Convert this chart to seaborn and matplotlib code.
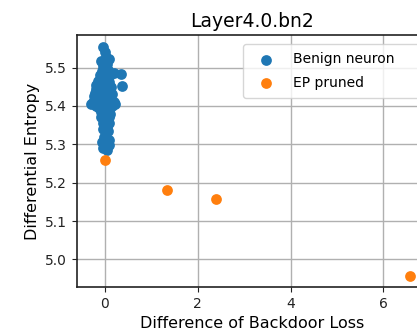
import matplotlib
matplotlib.use("Agg")
import matplotlib.pyplot as plt
import seaborn as sns
import pandas as pd

# Benign neurons: change in backdoor loss vs. differential entropy
benign_x = [-0.05, 0.00, 0.03, -0.09, 0.09, 0.05, -0.04, 0.07, 0.00, -0.06,
            0.34, 0.37, 0.20, 0.12,
            -0.10, -0.05, 0.05, -0.14, 0.10, -0.18, 0.00, 0.14, -0.20, -0.08,
            0.08, -0.22, 0.15, -0.12, 0.02, -0.24, 0.12, -0.05, -0.18, 0.20,
            -0.26, 0.05, -0.30, -0.10, 0.22, 0.15, -0.20, 0.00, -0.12,
            0.08, -0.08, 0.12, 0.00, -0.08, 0.10, 0.03, -0.05, 0.10, 0.05,
            -0.03, 0.07,
            -0.02, 0.09, -0.07, 0.10, 0.02, -0.04, 0.05]
benign_y = [5.553, 5.540, 5.527, 5.518, 5.523, 5.510, 5.505, 5.495, 5.490, 5.490,
            5.484, 5.451, 5.485, 5.480,
            5.480, 5.475, 5.470, 5.465, 5.462, 5.455, 5.455, 5.450, 5.445, 5.440,
            5.440, 5.435, 5.430, 5.430, 5.430, 5.425, 5.420, 5.420, 5.415, 5.410,
            5.410, 5.410, 5.405, 5.405, 5.405, 5.400, 5.400, 5.400, 5.395,
            5.390, 5.385, 5.380, 5.375, 5.370, 5.370, 5.360, 5.355, 5.355, 5.345,
            5.340, 5.335,
            5.318, 5.312, 5.305, 5.298, 5.300, 5.290, 5.286]

# Neurons pruned by EP
pruned_x = [0.00, 1.33, 2.39, 6.57]
pruned_y = [5.258, 5.180, 5.157, 4.956]

benign = pd.DataFrame({"loss_diff": benign_x, "entropy": benign_y})
pruned = pd.DataFrame({"loss_diff": pruned_x, "entropy": pruned_y})

fig = plt.figure(figsize=(4.17, 3.34), dpi=100)
ax = fig.add_axes([77 / 417, 47 / 334, 350 / 417, 252 / 334])

sns.scatterplot(data=benign, x="loss_diff", y="entropy", ax=ax,
                color="#1f77b4", s=60, linewidth=0, label="Benign neuron", zorder=3)
sns.scatterplot(data=pruned, x="loss_diff", y="entropy", ax=ax,
                color="#ff7f0e", s=60, linewidth=0, label="EP pruned", zorder=3)

ax.set_xlim(-0.6, 6.94)
ax.set_ylim(4.928, 5.585)
ax.set_xticks([0, 2, 4, 6])
ax.set_yticks([5.0, 5.1, 5.2, 5.3, 5.4, 5.5])
ax.grid(True, color="#b0b0b0", linewidth=1.0)
ax.set_axisbelow(True)
for sp in ax.spines.values():
    sp.set_color("#222222")
    sp.set_linewidth(1.2)
ax.tick_params(labelsize=10, colors="#222222")

ax.set_title("Layer4.0.bn2", fontsize=13.5)
ax.set_xlabel("Difference of Backdoor Loss", fontsize=11.5)
ax.set_ylabel("Differential Entropy", fontsize=11.5)

# legend box anchored near the top right, stretched to the axes edge
x0 = (243 - 77) / 350
ax.legend(loc="upper left", bbox_to_anchor=(x0, 0.965, 1.0 - x0, 0.0),
          mode="expand", borderaxespad=0.0, fontsize=10, framealpha=0.8,
          borderpad=0.6, handlelength=2.1, handletextpad=0.9, labelspacing=0.7)

fig.savefig("out.png", dpi=100)
